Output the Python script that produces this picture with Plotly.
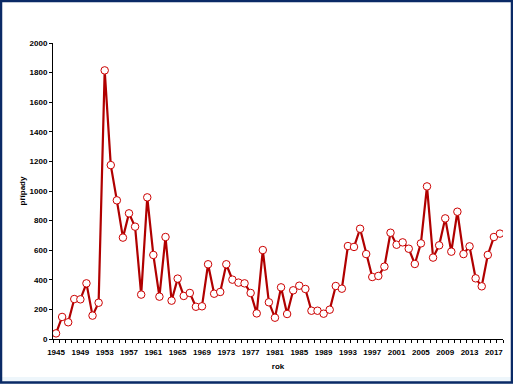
import plotly.graph_objects as go

years = list(range(1945, 2019))
cases = [38, 149, 113, 270, 268, 376, 158, 245, 1815, 1175,
         937, 685, 849, 759, 300, 957, 568, 286, 689, 259,
         408, 291, 311, 218, 221, 505, 306, 318, 505, 401,
         381, 376, 311, 173, 601, 248, 144, 349, 169, 329,
         360, 338, 191, 191, 171, 198, 358, 340, 628, 622,
         745, 574, 419, 426, 489, 718, 637, 653, 610, 507,
         646, 1031, 550, 633, 815, 590, 860, 574, 626, 410,
         356, 568, 689, 712]
x_labels = list(range(1945, 2019, 4))
y_ticks = list(range(0, 2001, 200))

W, H = 513, 384
ml, mr, mt, mb = 53, 10, 43, 45
pw, ph = W - ml - mr, H - mt - mb

def px(x):
    return (x - ml) / pw

def py(y):
    return (H - mb - y) / ph

font = "Liberation Sans, Arial, sans-serif"

fig = go.Figure()
fig.add_trace(go.Scatter(
    x=years, y=cases, mode="lines+markers",
    line=dict(color="#b00000", width=2.2),
    marker=dict(symbol="circle", size=7.5, color="white",
                line=dict(color="#cc0000", width=1)),
    hoverinfo="x+y", showlegend=False,
))

shapes = [
    dict(type="rect", xref="paper", yref="paper", layer="below",
         x0=px(0), x1=px(W), y0=py(H), y1=py(377),
         fillcolor="#eef6fb", line=dict(width=0)),
    dict(type="rect", xref="paper", yref="paper", layer="above",
         x0=px(1), x1=px(W - 1), y0=py(H - 1.5), y1=py(1),
         fillcolor="rgba(0,0,0,0)", line=dict(color="#0a2a66", width=2.5)),
]

fig.update_layout(
    width=W, height=H,
    margin=dict(l=ml, r=mr, t=mt, b=mb, pad=0),
    paper_bgcolor="white", plot_bgcolor="white",
    font=dict(family=font, size=8, color="black"),
    shapes=shapes,
    xaxis=dict(
        range=[1944.5, 2018.5], tickmode="array", tickvals=x_labels,
        ticktext=[str(v) for v in x_labels],
        ticks="outside", ticklen=0.01, tickcolor="black",
        ticklabelstandoff=5,
        showline=True, linecolor="black", linewidth=1,
        showgrid=False, zeroline=False,
        tickfont=dict(family=font, size=8, color="black", weight="bold"),
        minor=dict(tickmode="linear", tick0=1944.5, dtick=1,
                   ticks="outside", ticklen=3, tickcolor="black", showgrid=False),
        title=dict(text="<b>rok</b>", font=dict(family=font, size=8), standoff=7),
        fixedrange=True,
    ),
    yaxis=dict(
        range=[0, 2000], tickmode="array", tickvals=y_ticks,
        ticks="outside", ticklen=3, tickcolor="black",
        showline=True, linecolor="black", linewidth=1,
        showgrid=False, zeroline=False,
        tickfont=dict(family=font, size=8, color="black", weight="bold"),
        title=dict(text="<b>případy</b>", font=dict(family=font, size=8), standoff=2),
        fixedrange=True,
    ),
)

post = ("document.body.style.margin='0';document.body.style.padding='0';"
        "document.body.style.overflow='hidden';"
        "document.documentElement.style.margin='0';")
fig.write_html("out.html", config={"displayModeBar": False}, post_script=post)
